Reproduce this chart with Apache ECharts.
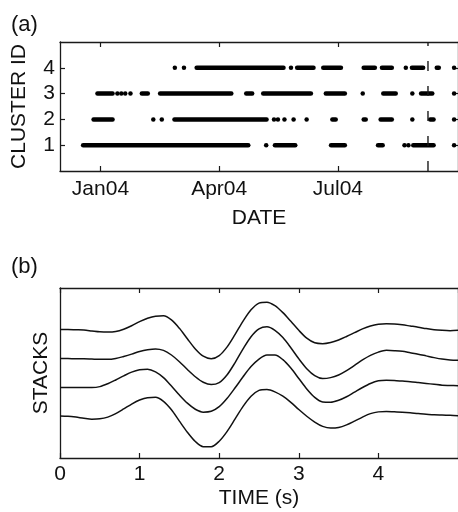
<!DOCTYPE html>
<html>
<head>
<meta charset="utf-8">
<script src="https://cdn.jsdelivr.net/npm/echarts@6/dist/echarts.min.js"></script>
<style>
  html, body { margin: 0; padding: 0; background: #fff; }
  #chart { width: 458px; height: 512px; }
</style>
</head>
<body>
<div id="chart"></div>
<script>
// ---------- (a) cluster activity by date ----------
const dateRange = ['2003-12-01', '2004-10-01'];
const dateTicks = ['2004-01-01', '2004-04-01', '2004-07-01'];
const dateTickLabels = ['Jan04', 'Apr04', 'Jul04'];
const clusterTicks = [1, 2, 3, 4];
const markerDate = '2004-09-08';

// Each entry is a [first day, last day] run of detections; single days repeat the date.
const cluster1Runs = [
  ['2003-12-17', '2004-04-25'], ['2004-05-07', '2004-05-07'], ['2004-05-12', '2004-05-31'],
  ['2004-06-24', '2004-07-08'], ['2004-07-30', '2004-08-06'], ['2004-08-21', '2004-08-21'],
  ['2004-08-24', '2004-08-24'], ['2004-08-26', '2004-09-14'], ['2004-09-28', '2004-09-28']
];
const cluster2Runs = [
  ['2003-12-25', '2004-01-12'], ['2004-02-09', '2004-02-12'], ['2004-02-17', '2004-02-17'],
  ['2004-02-25', '2004-05-09'], ['2004-05-13', '2004-05-13'], ['2004-05-16', '2004-05-16'],
  ['2004-05-21', '2004-05-21'], ['2004-05-28', '2004-05-28'], ['2004-06-07', '2004-06-07'],
  ['2004-06-25', '2004-07-01'], ['2004-07-19', '2004-07-24'], ['2004-08-01', '2004-08-13'],
  ['2004-08-27', '2004-08-27'], ['2004-09-08', '2004-09-14'], ['2004-09-28', '2004-09-28']
];
const cluster3Runs = [
  ['2003-12-28', '2004-01-12'], ['2004-01-14', '2004-01-14'], ['2004-01-17', '2004-01-17'],
  ['2004-01-20', '2004-01-20'], ['2004-01-24', '2004-01-24'], ['2004-01-31', '2004-02-08'],
  ['2004-02-14', '2004-04-12'], ['2004-04-20', '2004-04-28'], ['2004-05-03', '2004-06-12'],
  ['2004-06-20', '2004-07-08'], ['2004-07-20', '2004-07-20'], ['2004-08-03', '2004-08-16'],
  ['2004-08-27', '2004-08-27'], ['2004-09-01', '2004-09-13'], ['2004-09-28', '2004-09-28']
];
const cluster4Runs = [
  ['2004-02-27', '2004-02-27'], ['2004-03-05', '2004-03-05'], ['2004-03-13', '2004-05-22'],
  ['2004-05-26', '2004-05-26'], ['2004-05-29', '2004-06-14'], ['2004-06-18', '2004-07-05'],
  ['2004-07-19', '2004-07-31'], ['2004-08-02', '2004-08-13'], ['2004-08-22', '2004-08-22'],
  ['2004-08-25', '2004-09-06'], ['2004-09-13', '2004-09-18'], ['2004-09-28', '2004-09-28']
];

// ---------- (b) stacked waveforms ----------
const timeRange = [0, 5];
const times = [
  0.0, 0.1, 0.2, 0.3, 0.4, 0.5, 0.6, 0.7, 0.8, 0.9,
  1.0, 1.1, 1.2, 1.3, 1.4, 1.5, 1.6, 1.7, 1.8, 1.9,
  2.0, 2.1, 2.2, 2.3, 2.4, 2.5, 2.6, 2.7, 2.8, 2.9,
  3.0, 3.1, 3.2, 3.3, 3.4, 3.5, 3.6, 3.7, 3.8, 3.9,
  4.0, 4.1, 4.2, 4.3, 4.4, 4.5, 4.6, 4.7, 4.8, 4.9, 5.0
];
const stackOffsets = [1, 2, 3, 4];
const stack1 = [0.02, 0.01, -0.02, -0.06, -0.09, -0.08, -0.02, 0.10, 0.26, 0.43, 0.57, 0.65, 0.66, 0.52, 0.23, -0.16, -0.54, -0.86, -1.04, -1.04, -0.85, -0.51, -0.08, 0.35, 0.70, 0.90, 0.93, 0.85, 0.70, 0.49, 0.24, 0.01, -0.19, -0.34, -0.40, -0.38, -0.29, -0.16, -0.02, 0.10, 0.16, 0.17, 0.16, 0.15, 0.13, 0.10, 0.08, 0.06, 0.05, 0.04, 0.03];
const stack2 = [0, 0, 0, 0, 0, 0.03, 0.13, 0.26, 0.40, 0.53, 0.61, 0.63, 0.54, 0.34, 0.05, -0.26, -0.54, -0.75, -0.85, -0.82, -0.66, -0.37, -0.01, 0.37, 0.72, 0.98, 1.12, 1.12, 0.96, 0.67, 0.31, -0.05, -0.34, -0.50, -0.51, -0.44, -0.32, -0.16, 0.00, 0.14, 0.23, 0.25, 0.24, 0.22, 0.20, 0.17, 0.14, 0.11, 0.08, 0.07, 0.06];
const stack3 = [0, 0, -0.01, -0.01, -0.02, -0.03, -0.03, 0.00, 0.07, 0.15, 0.24, 0.30, 0.33, 0.28, 0.12, -0.11, -0.38, -0.63, -0.82, -0.90, -0.83, -0.56, -0.14, 0.33, 0.75, 1.02, 1.09, 0.97, 0.72, 0.37, -0.01, -0.35, -0.59, -0.69, -0.66, -0.57, -0.42, -0.24, -0.05, 0.11, 0.22, 0.28, 0.27, 0.25, 0.20, 0.15, 0.09, 0.03, -0.02, -0.05, -0.06];
const stack4 = [0, 0, -0.01, -0.02, -0.05, -0.08, -0.09, -0.07, 0.01, 0.13, 0.27, 0.39, 0.46, 0.47, 0.33, 0.04, -0.32, -0.67, -0.92, -1.01, -0.90, -0.60, -0.17, 0.29, 0.68, 0.91, 0.94, 0.82, 0.58, 0.28, -0.03, -0.30, -0.46, -0.49, -0.45, -0.36, -0.24, -0.11, 0.02, 0.12, 0.18, 0.20, 0.19, 0.16, 0.12, 0.08, 0.03, -0.01, -0.03, -0.04, -0.03];

// ---------- helpers ----------
function toMs(s) {
  const p = s.split('-').map(Number);
  return new Date(p[0], p[1] - 1, p[2]).getTime();
}
const FONT = '"Liberation Sans", Arial, Helvetica, sans-serif';
const INK = '#111';
const FRAME = '#1a1a1a';
const DOT = 4.5;
const FS = 21;

const tickMs = dateTicks.map(toMs);
const tickLabelByMs = {};
tickMs.forEach((ms, i) => { tickLabelByMs[ms] = dateTickLabels[i]; });

function runData(runs, id) {
  return runs.map(r => [toMs(r[0]), toMs(r[1]), id]);
}
const clusterData = [].concat(
  runData(cluster1Runs, 1), runData(cluster2Runs, 2),
  runData(cluster3Runs, 3), runData(cluster4Runs, 4)
);

// A run of daily detections drawn as a pill; a single day becomes one dot.
function renderRun(params, api) {
  const a = api.coord([api.value(0), api.value(2)]);
  const b = api.coord([api.value(1), api.value(2)]);
  const w = Math.max(b[0] - a[0], DOT);
  const cx = (a[0] + b[0]) / 2;
  return {
    type: 'rect',
    shape: { x: cx - w / 2, y: a[1] - DOT / 2, width: w, height: DOT, r: DOT / 2 },
    style: { fill: '#000' }
  };
}

const stacks = [stack1, stack2, stack3, stack4];
const stackSeries = stacks.map((amp, k) => ({
  type: 'line',
  xAxisIndex: 2,
  yAxisIndex: 2,
  smooth: 0.3,
  showSymbol: false,
  silent: true,
  lineStyle: { color: INK, width: 1.5 },
  data: times.map((t, i) => [t, stackOffsets[k] + amp[i]])
}));

const frameLine = { show: true, onZero: false, lineStyle: { color: FRAME, width: 1.3 } };
const tickStyle = { color: FRAME, width: 1.2 };
const labelText = { color: INK, fontFamily: FONT, fontSize: FS };
const nameText = { color: INK, fontFamily: FONT, fontSize: FS };

const chart = echarts.init(document.getElementById('chart'), null, { renderer: 'canvas' });
chart.setOption({
  animation: false,
  backgroundColor: '#fff',
  title: [
    { text: '(a)', left: 6, top: 9, textStyle: { color: INK, fontFamily: FONT, fontSize: 22, fontWeight: 'normal' } },
    { text: '(b)', left: 6, top: 251, textStyle: { color: INK, fontFamily: FONT, fontSize: 22, fontWeight: 'normal' } }
  ],
  grid: [
    { left: 60, top: 42, width: 400, height: 129 },
    { left: 60, top: 288, width: 400, height: 170 }
  ],
  xAxis: [
    {
      type: 'value', gridIndex: 0, position: 'bottom',
      min: toMs(dateRange[0]), max: toMs(dateRange[1]),
      axisLine: frameLine,
      axisTick: { show: true, inside: true, length: 5, lineStyle: tickStyle, customValues: tickMs },
      axisLabel: Object.assign({ margin: 8, customValues: tickMs, formatter: v => tickLabelByMs[v] || '' }, labelText),
      splitLine: { show: false },
      name: 'DATE', nameLocation: 'middle', nameGap: 37, nameTextStyle: nameText
    },
    {
      type: 'value', gridIndex: 0, position: 'top',
      min: toMs(dateRange[0]), max: toMs(dateRange[1]),
      axisLine: frameLine,
      axisTick: { show: true, inside: true, length: 5, lineStyle: tickStyle, customValues: tickMs },
      axisLabel: { show: false, customValues: tickMs },
      splitLine: { show: false }
    },
    {
      type: 'value', gridIndex: 1, position: 'bottom',
      min: timeRange[0], max: timeRange[1], interval: 1,
      axisLine: frameLine,
      axisTick: { show: true, inside: true, length: 5, lineStyle: tickStyle },
      axisLabel: Object.assign({ margin: 6, showMaxLabel: false }, labelText),
      splitLine: { show: false },
      name: 'TIME (s)', nameLocation: 'middle', nameGap: 30, nameTextStyle: nameText
    },
    {
      type: 'value', gridIndex: 1, position: 'top',
      min: timeRange[0], max: timeRange[1], interval: 1,
      axisLine: frameLine,
      axisTick: { show: true, inside: true, length: 5, lineStyle: tickStyle },
      axisLabel: { show: false },
      splitLine: { show: false }
    }
  ],
  yAxis: [
    {
      type: 'value', gridIndex: 0, position: 'left',
      min: 0, max: 5, interval: 1,
      axisLine: frameLine,
      axisTick: { show: true, inside: true, length: 5, lineStyle: tickStyle, customValues: clusterTicks },
      axisLabel: Object.assign({ margin: 5, customValues: clusterTicks }, labelText),
      splitLine: { show: false },
      name: 'CLUSTER ID', nameLocation: 'middle', nameGap: 30, nameRotate: 90, nameTextStyle: nameText
    },
    {
      type: 'value', gridIndex: 0, position: 'right',
      min: 0, max: 5, interval: 1,
      axisLine: frameLine,
      axisTick: { show: true, inside: true, length: 5, lineStyle: tickStyle, customValues: clusterTicks },
      axisLabel: { show: false },
      splitLine: { show: false }
    },
    {
      type: 'value', gridIndex: 1, position: 'left',
      min: -0.43, max: 5.43,
      axisLine: frameLine,
      axisTick: { show: false },
      axisLabel: { show: false },
      splitLine: { show: false },
      name: 'STACKS', nameLocation: 'middle', nameGap: 8, nameRotate: 90, nameTextStyle: nameText
    },
    {
      type: 'value', gridIndex: 1, position: 'right',
      min: -0.43, max: 5.43,
      axisLine: frameLine,
      axisTick: { show: false },
      axisLabel: { show: false },
      splitLine: { show: false }
    }
  ],
  series: [
    {
      type: 'custom',
      coordinateSystem: 'cartesian2d',
      xAxisIndex: 0, yAxisIndex: 0,
      clip: true,
      silent: true,
      renderItem: renderRun,
      encode: { x: [0, 1], y: 2 },
      data: clusterData
    },
    {
      type: 'line',
      xAxisIndex: 0, yAxisIndex: 0,
      showSymbol: false,
      silent: true,
      lineStyle: { color: FRAME, width: 1.4, type: [10, 15] },
      data: [[toMs(markerDate), 0], [toMs(markerDate), 5]]
    }
  ].concat(stackSeries)
});
</script>
</body>
</html>
